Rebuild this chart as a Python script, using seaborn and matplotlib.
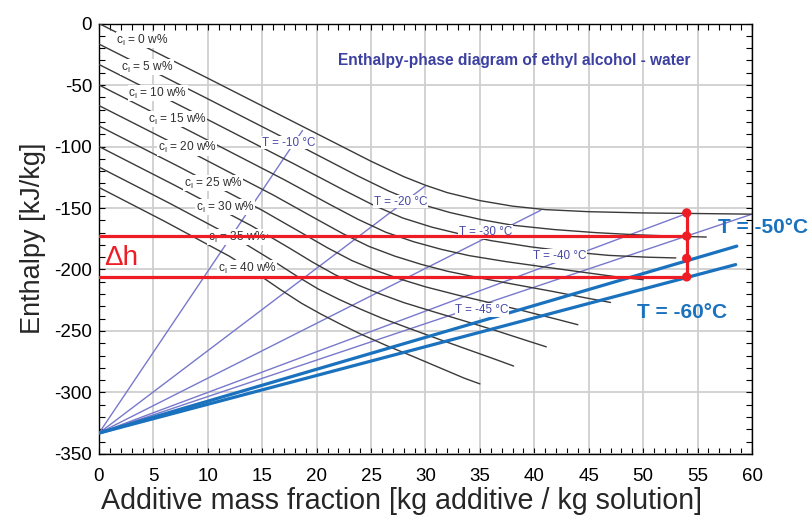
import matplotlib
matplotlib.use("Agg")
import matplotlib.pyplot as plt
import seaborn as sns
from matplotlib.ticker import MultipleLocator

# --- lines of constant ice content c_l [w%]: additive fraction x vs enthalpy h ---
conc_levels = [0, 5, 10, 15, 20, 25, 30, 35, 40]

x_c0 = [0, 5, 10, 15, 20, 25, 28, 30, 32, 35, 38, 41, 45, 50, 55, 60]
h_c0 = [0, -22.3, -44.5, -67, -89.5, -112, -124.5, -131.5, -137.5, -144, -148.5, -151.3, -153, -154, -154.5, -155]
x_c5 = [0, 9.5, 19, 23.75, 26.6, 29.45, 32.3, 35.15, 38, 41.8, 45.6, 49.4, 53.2, 55.8]
h_c5 = [-16.7, -59, -102, -123.8, -136.1, -146.6, -153.8, -159.5, -164, -167.5, -170, -171.8, -173, -173.6]
x_c10 = [0, 9, 18, 22.5, 25.2, 27.9, 30.6, 33.3, 36, 39.6, 43.2, 46.8, 50.4, 53.0]
h_c10 = [-33.3, -73.6, -114.5, -135.5, -147.6, -158.1, -165.6, -171.4, -176.5, -181.5, -185.5, -188.5, -190, -190.6]
x_c15 = [0, 8.5, 17, 21.25, 23.8, 26.35, 28.9, 31.45, 34, 37.4, 40.8, 44.2, 47.6, 50.0]
h_c15 = [-50, -88.1, -126.9, -147.3, -159.2, -169.7, -177.4, -183.6, -188.7, -193.6, -197.8, -201.9, -206.0, -208.3]
x_c20 = [0, 8, 16, 20, 22.4, 24.8, 27.2, 29.6, 32, 35.2, 38.4, 41.6, 44.8, 47.0]
h_c20 = [-66.7, -102.6, -139.4, -159.1, -170.8, -181.2, -189.2, -195.8, -201.4, -207.2, -212.5, -217.7, -223.2, -226.8]
x_c25 = [0, 7.5, 15, 18.75, 21, 23.25, 25.5, 27.75, 30, 33, 36, 39, 42, 44.0]
h_c25 = [-83.3, -117.1, -151.9, -170.9, -182.4, -192.8, -201.0, -208.0, -214.1, -220.9, -227.2, -233.6, -240.3, -244.9]
x_c30 = [0, 7, 14, 17.5, 19.6, 21.7, 23.8, 25.9, 28, 30.8, 33.6, 36.4, 39.2, 41.1]
h_c30 = [-100, -131.7, -164.4, -182.6, -193.9, -204.3, -212.7, -220.1, -226.9, -234.5, -241.9, -249.5, -257.5, -262.9]
x_c35 = [0, 6.5, 13, 16.25, 18.2, 20.15, 22.1, 24.05, 26, 28.6, 31.2, 33.8, 36.4, 38.1]
h_c35 = [-116.7, -146.2, -176.8, -194.4, -205.5, -215.9, -224.5, -232.3, -239.6, -248.2, -256.6, -264.8, -273.0, -278.5]
x_c40 = [0, 6, 12, 15, 16.8, 18.6, 20.4, 22.2, 24, 26.4, 28.8, 31.2, 33.6, 35.0]
h_c40 = [-133.3, -160.7, -189.3, -206.2, -217.1, -227.4, -236.3, -244.5, -252.3, -261.8, -270.5, -279.5, -288.5, -293.0]

# label anchor points for the c_l curves
clab_x = [4.0, 4.4, 5.4, 7.2, 8.1, 10.5, 11.6, 12.7, 13.6]
clab_h = [-13.4, -35.4, -56.5, -77.6, -101, -129.7, -149.2, -173.6, -198.8]

# --- isotherms: straight lines from pure ice (x=0) to the liquidus ---
ice_x, ice_h = 0.0, -333.0
iso_T = [-10, -20, -30, -40, -45]
iso_x_end = [18.7, 30.0, 40.6, 54.0, 60.0]
iso_h_end = [-87.0, -132.0, -151.8, -154.5, -155.0]
iso_lab_x = [17.4, 27.7, 35.5, 42.3, 35.2]
iso_lab_h = [-97, -145, -169.5, -189, -233]

# highlighted isotherms
bold_T = [-50, -60]
bold_x_end = [58.6, 58.5]
bold_h_end = [-181.0, -196.0]

# enthalpy difference read at x = 54
dh_x = 54.0
dh_points = [-154.0, -172.8, -191.0, -206.0]
dh_levels = [-172.8, -206.0]

sns.set_theme(style="ticks")
plt.rcParams["font.family"] = ["Liberation Sans", "DejaVu Sans"]
plt.rcParams["mathtext.fontset"] = "custom"
plt.rcParams["mathtext.rm"] = "Liberation Sans"
plt.rcParams["mathtext.it"] = "Liberation Sans"
plt.rcParams["axes.unicode_minus"] = False

fig = plt.figure(figsize=(8.1, 5.17), dpi=100)
ax = fig.add_axes([0.1222, 0.1219, 0.9284 - 0.1222, 0.9545 - 0.1219])

curve_color = "#3a3a3a"
iso_color = "#7878cc"
iso_text = "#4848a8"
blue = "#1a72be"
red = "#ee1c24"

curves_x = [x_c0, x_c5, x_c10, x_c15, x_c20, x_c25, x_c30, x_c35, x_c40]
curves_h = [h_c0, h_c5, h_c10, h_c15, h_c20, h_c25, h_c30, h_c35, h_c40]
for xs, hs in zip(curves_x, curves_h):
    sns.lineplot(x=xs, y=hs, sort=False, estimator=None, color=curve_color,
                 lw=1.0, ax=ax, zorder=3)

for xe, he in zip(iso_x_end, iso_h_end):
    sns.lineplot(x=[ice_x, xe], y=[ice_h, he], sort=False, estimator=None,
                 color=iso_color, lw=1.0, ax=ax, zorder=2)

for xe, he in zip(bold_x_end, bold_h_end):
    sns.lineplot(x=[ice_x, xe], y=[ice_h, he], sort=False, estimator=None,
                 color=blue, lw=2.3, ax=ax, zorder=4)

# red construction lines
for lev in dh_levels:
    sns.lineplot(x=[0, dh_x], y=[lev, lev], sort=False, estimator=None,
                 color=red, lw=2.3, ax=ax, zorder=6)
sns.lineplot(x=[dh_x, dh_x], y=[dh_points[0], dh_points[-1]], sort=False,
             estimator=None, color=red, lw=2.3, ax=ax, zorder=6)
sns.scatterplot(x=[dh_x] * len(dh_points), y=dh_points, color=red, s=45,
                edgecolor="none", ax=ax, zorder=7)

box = dict(boxstyle="square,pad=0.05", fc="white", ec="none")
for c, lx, lh in zip(conc_levels, clab_x, clab_h):
    ax.text(lx, lh, "c$_\\mathregular{l}$ = %d w%%" % c, fontsize=8.6,
            color="#303030", ha="center", va="center", bbox=box, zorder=5)
for T, lx, lh in zip(iso_T, iso_lab_x, iso_lab_h):
    ax.text(lx, lh, "T = %d °C" % T, fontsize=8.4, color=iso_text,
            ha="center", va="center", bbox=box, zorder=5)

ax.text(38.2, -30, "Enthalpy-phase diagram of ethyl alcohol - water",
        fontsize=11.2, fontweight="bold", color="#3c40a0", ha="center",
        va="center", zorder=5)
ax.text(56.9, -166, "T = -50°C", fontsize=15, fontweight="bold", color=blue,
        ha="left", va="center", clip_on=False, zorder=8)
ax.text(53.6, -235, "T = -60°C", fontsize=15, fontweight="bold", color=blue,
        ha="center", va="center", zorder=8)
ax.text(2.0, -191, "Δh", fontsize=20, color=red, ha="center", va="center",
        zorder=8)

ax.set_xlim(0, 60)
ax.set_ylim(-350, 0)
ax.xaxis.set_major_locator(MultipleLocator(5))
ax.xaxis.set_minor_locator(MultipleLocator(1))
ax.yaxis.set_major_locator(MultipleLocator(50))
ax.yaxis.set_minor_locator(MultipleLocator(10))
ax.grid(True, which="major", color="#cfcfcf", lw=1.3, zorder=0)
ax.set_axisbelow(True)
ax.tick_params(which="both", direction="in", top=True, right=True,
               colors="black")
ax.tick_params(which="major", length=4, width=0.8)
ax.tick_params(which="minor", length=4, width=0.8)
ax.tick_params(axis="x", which="major", labelsize=13.5, pad=10)
ax.tick_params(axis="y", which="major", labelsize=13.5, pad=5)
for s in ax.spines.values():
    s.set_color("black")
    s.set_linewidth(1.0)

ax.set_xlabel("Additive mass fraction [kg additive / kg solution]",
              fontsize=20.6)
ax.xaxis.set_label_coords(0.4625, -0.109)
ax.xaxis.label.set_va("center")
ax.set_ylabel("Enthalpy [kJ/kg]", fontsize=19.5, labelpad=6)

fig.savefig("out.png", dpi=100)
